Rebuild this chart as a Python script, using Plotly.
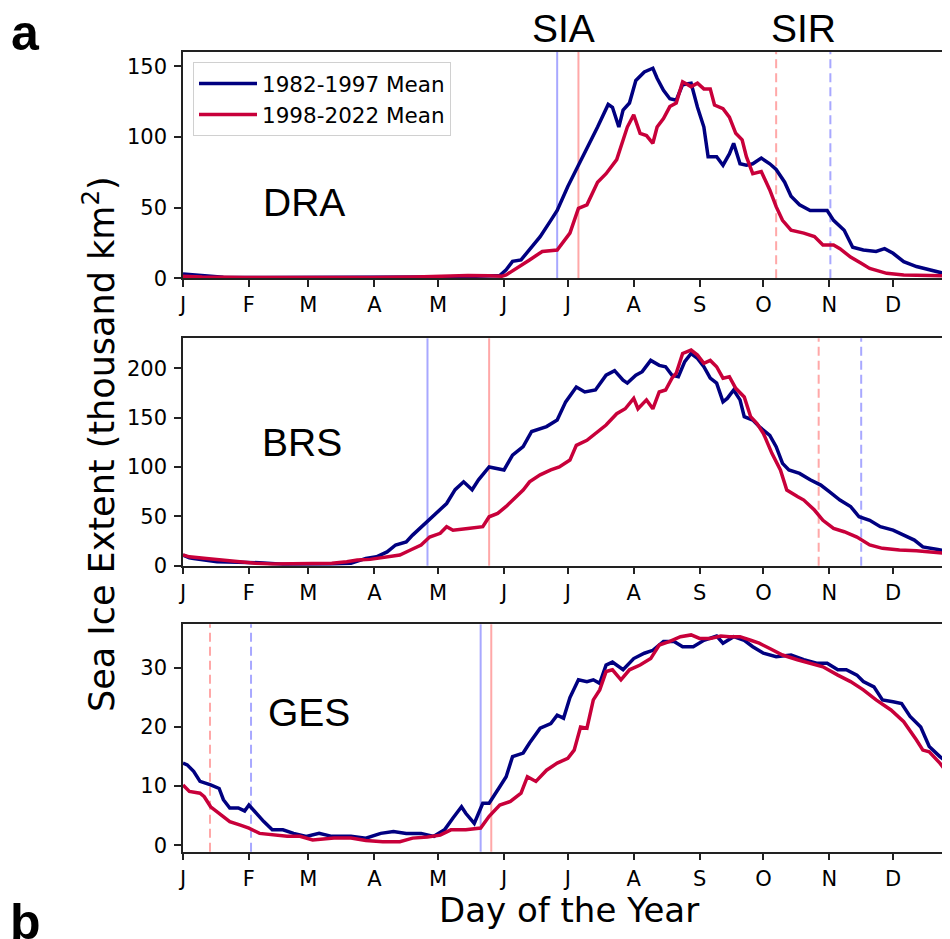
import plotly.graph_objects as go

# month ticks (day of year)
month_days = [1, 32, 60, 91, 121, 152, 182, 213, 244, 274, 305, 335]
month_labels = ["J", "F", "M", "A", "M", "J", "J", "A", "S", "O", "N", "D"]

# DRA
dra_days_a = [1, 5, 10, 20, 40, 60, 80, 100, 120, 135, 145, 150, 153, 156, 160, 164, 169, 174, 177, 182,
              186, 191, 196, 201, 203, 206, 208, 211, 214, 218, 222, 224, 227, 230, 233, 236, 240, 243, 246, 248,
              252, 255, 258, 260, 263, 266, 269, 273, 277, 280, 284, 287, 291, 296, 300, 304, 307, 312, 316, 321,
              327, 331, 335, 340, 346, 352, 359, 365]
dra_a = [3, 2.5, 1.5, 0.8, 0.5, 0.5, 0.7, 0.8, 1.0, 1.2, 1.5, 2, 6, 12, 13, 20, 29.5, 41, 48, 65,
         77, 91, 107, 123, 121, 107, 119, 124, 140, 146, 148.6, 141.5, 133, 127, 126, 137, 138, 121, 107, 86,
         86, 80, 88, 95.5, 81, 80, 81, 85, 81, 77, 68, 58, 52, 48, 48, 48, 41, 34, 22, 20,
         19, 21, 17.7, 11.8, 8.3, 5.9, 3.5, 2.5]
dra_days_b = [1, 10, 30, 60, 90, 110, 125, 135, 145, 151, 153, 158, 164, 170, 177, 183, 187, 191, 196, 200,
              205, 210, 213, 216, 219, 222, 224, 227, 230, 233, 236, 240, 243, 246, 249, 251, 255, 258, 261, 264,
              266, 269, 273, 277, 280, 283, 287, 293, 298, 302, 307, 310, 315, 320, 324, 332, 340, 365]
dra_b = [1.5, 1, 0.6, 0.5, 0.6, 1.0, 1.8, 2, 1.8, 1.5, 2.4, 7, 13, 19, 20, 32, 49.5, 52, 68, 74,
         84, 107, 115.6, 102.6, 101, 95.5, 107, 113, 121.5, 124, 139, 135.6, 138, 134, 134, 122.6, 120, 114, 102.6, 98,
         86, 74, 75.5, 62.5, 50.7, 41, 34, 32, 29.5, 23.6, 23.6, 21, 15, 10.6, 7, 3.5, 2.4, 1.6]

# BRS
brs_days_a = [1, 4, 6, 11, 17, 27, 37, 48, 60, 70, 80, 87, 92, 97, 101, 106, 109, 115, 120, 125,
              129, 133, 137, 140, 145, 152, 156, 161, 165, 169, 172, 177, 181, 186, 190, 195, 200, 204, 208, 210,
              214, 217, 221, 225, 228, 231, 234, 237, 240, 243, 246, 249, 252, 255, 257, 260, 263, 265, 269, 272,
              277, 280, 283, 286, 291, 296, 301, 305, 310, 315, 319, 324, 329, 335, 340, 345, 349, 356, 365]
brs_a = [10.8, 8, 7.4, 5.5, 4, 3.5, 3, 1.5, 1.5, 1.8, 2.4, 7.4, 9, 14, 21, 24, 31, 43, 53, 63,
         77, 85, 77, 87, 100, 97, 112, 120.6, 136, 139, 141, 147.6, 166, 181, 176, 178, 193, 197.6, 188, 185,
         193, 196.6, 208, 203, 201.6, 193, 191.5, 206.7, 215, 210, 201.6, 190, 185, 166, 169.5, 178, 168, 151, 147.6, 141,
         132, 120.6, 103.7, 97, 93.5, 87, 81.7, 75, 66.5, 60, 49.6, 46, 39.5, 36, 31, 26, 19, 16.5, 12]
brs_days_b = [1, 4, 12, 20, 27, 35, 43, 55, 71, 78, 83, 89, 97, 103, 108, 113, 117, 122, 125, 128,
              135, 142, 145, 149, 153, 158, 161, 164, 169, 174, 178, 183, 186, 191, 196, 200, 205, 209, 213, 215,
              219, 222, 225, 228, 231, 233, 236, 240, 243, 246, 249, 252, 255, 258, 261, 265, 268, 271, 274, 278,
              282, 285, 290, 293, 298, 302, 307, 312, 318, 324, 330, 338, 346, 356, 365]
brs_b = [10.8, 9, 7.4, 5.7, 4, 2.4, 1.7, 2, 2.4, 4, 5.7, 6.4, 9, 10.8, 15.9, 21, 29, 32.8, 39.5, 36,
         37.8, 39.5, 49.6, 53, 60, 70, 76.7, 85, 92, 97, 100, 107, 122, 127, 135.8, 142.5, 154, 159, 169.5, 159,
         168, 159, 176, 178, 190, 195, 215, 218.5, 213.4, 205, 208, 201.6, 190, 191.5, 179.7, 171, 151, 144, 134, 113.8,
         97, 76.7, 70, 66.5, 56.4, 46, 37.8, 34.4, 29, 21, 17.6, 15.9, 15.2, 13, 11.5]

# GES
ges_days_a = [1, 3, 6, 9, 14, 18, 20, 23, 27, 30, 32, 36, 39, 43, 48, 53, 59, 65, 71, 80,
              87, 94, 100, 106, 113, 119, 124, 128, 132, 134, 138, 142, 145, 150, 153, 156, 161, 164, 169, 174,
              177, 180, 183, 187, 191, 194, 197, 200, 203, 208, 213, 218, 222, 227, 232, 236, 241, 246, 252, 255,
              260, 265, 269, 274, 280, 287, 293, 299, 304, 309, 313, 318, 321, 326, 330, 335, 339, 343, 348, 352,
              357, 362, 365]
ges_a = [13.9, 13.6, 12.5, 10.8, 10.2, 9.6, 7.7, 6.3, 6.3, 5.8, 6.8, 5.1, 4.0, 2.6, 2.6, 2.0, 1.5, 2.0, 1.5, 1.5,
         1.2, 2.0, 2.3, 2.0, 2.0, 1.5, 2.6, 4.6, 6.5, 5.4, 3.7, 7.1, 7.1, 9.9, 11.6, 15, 15.6, 17.3, 19.8, 20.6,
         22, 21.5, 25, 28, 27.7, 28, 27.4, 30.5, 31, 29.7, 31.6, 32.5, 33, 34.5, 34.5, 33.6, 33.6, 34.7, 35.4, 34.2,
         35.3, 34.7, 33.6, 32.5, 31.9, 32.2, 31.4, 30.8, 30.8, 29.7, 29.7, 28.8, 27.7, 26.8, 24.6, 24.3, 24, 21.8, 20, 16.7,
         15, 13.6, 12.5]
ges_days_b = [1, 4, 9, 11, 14, 18, 23, 28, 32, 37, 44, 50, 56, 62, 72, 80, 87, 95, 103, 109,
              116, 122, 127, 134, 141, 145, 150, 155, 160, 163, 167, 172, 177, 182, 185, 188, 191, 194, 197, 200,
              203, 207, 211, 216, 221, 225, 230, 235, 240, 244, 249, 254, 258, 263, 268, 272, 277, 283, 290, 296,
              302, 309, 315, 321, 327, 334, 340, 346, 349, 352, 357, 362, 365]
ges_b = [10.2, 9.1, 8.8, 8.2, 6.5, 5.4, 4.0, 3.4, 2.9, 2.0, 1.7, 1.5, 1.5, 0.9, 1.2, 1.2, 0.8, 0.6, 0.6, 1.2,
         1.4, 1.7, 2.6, 2.6, 2.9, 4.9, 6.8, 7.4, 8.8, 11.6, 10.8, 12.7, 13.9, 14.7, 16.1, 20, 19.8, 24.6, 26.3, 29.4,
         29.7, 28, 29.7, 30.5, 31.6, 33.9, 34.5, 35.3, 35.6, 35, 35, 35.4, 35.3, 35.3, 34.7, 34.2, 33.3, 32.2, 31.4, 30.8,
         30.2, 28.8, 27.7, 26.3, 24.6, 22.9, 20.9, 17.8, 16.1, 15.8, 13.9, 11.6, 10.5]

# sea ice advance (SIA) / retreat (SIR) days: [early period, late period]
dra_sia = [177, 187]
dra_sir = [305.5, 280]
brs_sia = [116, 145]
brs_sir = [320, 300]
ges_sia = [141, 146]
ges_sir = [33, 13.7]

BLUE = "#000080"
RED = "#C8003A"
LBLUE = "#A8A8FF"
LRED = "#FFA8A8"

# page has an 8px body margin: offset everything by it, keep the figure inside the window width
OFF = 8
FW, FH = 950 - 2 * OFF, 939 - OFF
PX_PER_DAY = 2.126
X_END = 1 + (FW + OFF - 183) / PX_PER_DAY


def px(x):
    return (x - OFF) / FW


def py(y):
    return 1 - (y - OFF) / FH


panels = [
    ("DRA", dra_days_a, dra_a, dra_days_b, dra_b, dra_sia, dra_sir, [0, 160.1], [0, 50, 100, 150], (52, 278.3)),
    ("BRS", brs_days_a, brs_a, brs_days_b, brs_b, brs_sia, brs_sir, [0, 230.4], [0, 50, 100, 150, 200], (338.3, 565.7)),
    ("GES", ges_days_a, ges_a, ges_days_b, ges_b, ges_sia, ges_sir, [-1.1, 37.4], [0, 10, 20, 30], (624.3, 851.7)),
]
label_pos = [(304, 202), (302, 442), (309, 712)]

fig = go.Figure()
layout = dict(
    width=FW, height=FH, margin=dict(l=0, r=0, t=0, b=0),
    paper_bgcolor="white", plot_bgcolor="white",
    font=dict(family="DejaVu Sans", color="black"),
    showlegend=True,
    legend=dict(x=px(193), y=py(62), xanchor="left", yanchor="top",
                bgcolor="white", bordercolor="#d0d0d0", borderwidth=1,
                font=dict(size=21.5, family="DejaVu Sans"), itemwidth=58, tracegroupgap=2),
)
shapes = []
annotations = []

for i, (name, da, va, db, vb, sia, sir, yr, yt, (top, bot)) in enumerate(panels):
    n = "" if i == 0 else str(i + 1)
    xa, ya = "x" + n, "y" + n
    fig.add_trace(go.Scatter(x=da, y=va, mode="lines", line=dict(color=BLUE, width=3.5),
                             name="1982-1997 Mean", showlegend=(i == 0), xaxis=xa, yaxis=ya))
    fig.add_trace(go.Scatter(x=db, y=vb, mode="lines", line=dict(color=RED, width=3.5),
                             name="1998-2022 Mean", showlegend=(i == 0), xaxis=xa, yaxis=ya))
    layout["xaxis" + n] = dict(
        domain=[px(183), 1.0], range=[1, X_END], anchor=ya,
        tickvals=month_days, ticktext=month_labels, tickfont=dict(size=21),
        ticks="outside", ticklen=7, tickwidth=1.5, tickcolor="#222",
        showline=True, linecolor="#222", linewidth=1.5, mirror=True,
        showgrid=False, zeroline=False, automargin=False,
    )
    layout["yaxis" + n] = dict(
        domain=[py(bot), py(top)], range=yr, anchor=xa,
        tickvals=yt, tickfont=dict(size=21), ticklabelstandoff=3,
        ticks="outside", ticklen=7, tickwidth=1.5, tickcolor="#222",
        showline=True, linecolor="#222", linewidth=1.5, mirror=False,
        showgrid=False, zeroline=False, automargin=False,
    )
    for xv, col in zip(sia, [LBLUE, LRED]):
        shapes.append(dict(type="line", xref=xa, yref=ya + " domain", x0=xv, x1=xv, y0=0, y1=1,
                           line=dict(color=col, width=2), layer="below"))
    for xv, col in zip(sir, [LBLUE, LRED]):
        shapes.append(dict(type="line", xref=xa, yref=ya + " domain", x0=xv, x1=xv, y0=0, y1=1,
                           line=dict(color=col, width=2, dash="9px,5px"), layer="below"))
    lx, ly = label_pos[i]
    annotations.append(dict(text=name, x=px(lx), y=py(ly), xref="paper", yref="paper",
                            xanchor="center", yanchor="middle", showarrow=False,
                            font=dict(family="Liberation Sans", size=39)))


def note(text, x, y, size, family="Liberation Sans", angle=0):
    return dict(text=text, x=px(x), y=py(y), xref="paper", yref="paper", showarrow=False,
                xanchor="center", yanchor="middle", textangle=angle,
                font=dict(family=family, size=size))


annotations += [
    note("SIA", 563, 29, 39),
    note("SIR", 803, 29, 39),
    note("<b>a</b>", 25, 33, 50),
    note("<b>b</b>", 25, 922, 50),
    note("Sea Ice Extent (thousand km<sup>2</sup>)", 99, 444, 35, "DejaVu Sans", -90),
    note("Day of the Year", 569, 910, 34, "DejaVu Sans"),
]
layout["shapes"] = shapes
layout["annotations"] = annotations
fig.update_layout(**layout)
fig.write_html("out.html")
